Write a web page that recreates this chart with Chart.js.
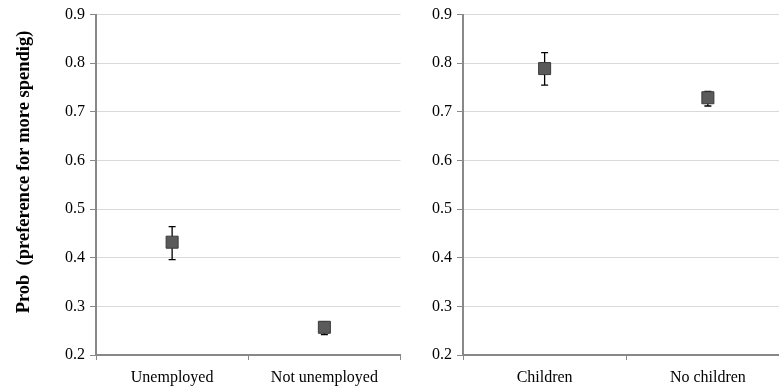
<!DOCTYPE html>
<html>
<head>
<meta charset="utf-8">
<script src="https://cdn.jsdelivr.net/npm/chart.js@4"></script>
<style>
html,body{margin:0;padding:0;background:#fff;overflow:hidden;width:779px;height:392px;}
#w1{position:absolute;left:0;top:0;width:410px;height:392px;}
#w2{position:absolute;left:405px;top:0;width:394px;height:392px;}
</style>
</head>
<body>
<div id="w1"><canvas id="c1"></canvas></div>
<div id="w2"><canvas id="c2"></canvas></div>
<script>
const leftCategories = ["Unemployed", "Not unemployed"];
const leftValues = [0.432, 0.257];
const leftLower = [0.396, 0.242];
const leftUpper = [0.464, 0.268];

const rightCategories = ["Children", "No children"];
const rightValues = [0.789, 0.729];
const rightLower = [0.755, 0.712];
const rightUpper = [0.822, 0.742];

const yTicks = [0.2, 0.3, 0.4, 0.5, 0.6, 0.7, 0.8, 0.9];
const yTitle = "Prob  (preference for more spendig)";

const errorBars = {
  id: 'errorBars',
  beforeDatasetsDraw(chart, args, opts) {
    const ctx = chart.ctx;
    const xs = chart.scales.x, ys = chart.scales.y;
    ctx.save();
    ctx.strokeStyle = '#000';
    ctx.lineWidth = 1.3;
    opts.lower.forEach((lo, i) => {
      const x = xs.getPixelForValue(i);
      const yl = ys.getPixelForValue(lo);
      const yu = ys.getPixelForValue(opts.upper[i]);
      ctx.beginPath();
      ctx.moveTo(x, yl); ctx.lineTo(x, yu);
      ctx.moveTo(x - 3.5, yl); ctx.lineTo(x + 3.5, yl);
      ctx.moveTo(x - 3.5, yu); ctx.lineTo(x + 3.5, yu);
      ctx.stroke();
    });
    ctx.restore();
  }
};

const yTitlePlugin = {
  id: 'yTitlePlugin',
  afterDraw(chart, args, opts) {
    if (!opts.text) return;
    const ctx = chart.ctx;
    ctx.save();
    ctx.translate(24, 172);
    ctx.rotate(-Math.PI / 2);
    ctx.font = 'bold 18.5px "Liberation Serif"';
    ctx.fillStyle = '#000';
    ctx.textAlign = 'center';
    ctx.textBaseline = 'middle';
    ctx.fillText(opts.text, 0, 0);
    ctx.restore();
  }
};

function makeChart(id, cats, vals, lo, hi, yWidth, titleText) {
  return new Chart(document.getElementById(id), {
    type: 'line',
    data: {
      labels: cats,
      datasets: [{
        data: vals,
        showLine: false,
        pointStyle: 'rect',
        pointRadius: 8.5,
        pointHoverRadius: 8.5,
        pointBackgroundColor: '#5a5a5a',
        pointBorderColor: '#3a3a3a',
        pointBorderWidth: 1
      }]
    },
    options: {
      responsive: true,
      maintainAspectRatio: false,
      animation: false,
      events: [],
      layout: { padding: { top: 13, right: 0, left: 0, bottom: 0 } },
      plugins: {
        legend: { display: false },
        tooltip: { enabled: false },
        errorBars: { lower: lo, upper: hi },
        yTitlePlugin: { text: titleText }
      },
      scales: {
        x: {
          type: 'category',
          offset: true,
          grid: {
            display: true,
            drawOnChartArea: false,
            offset: true,
            tickLength: 5,
            color: '#888888',
            lineWidth: 1
          },
          border: { display: true, color: '#888888', width: 2 },
          ticks: {
            color: '#000',
            padding: 8,
            font: { family: 'Liberation Serif', size: 16 }
          },
          afterFit(s) { s.height = 37; }
        },
        y: {
          min: 0.2,
          max: 0.9,
          afterBuildTicks(s) { s.ticks = yTicks.map(v => ({ value: v })); },
          grid: {
            color: '#d9d9d9',
            lineWidth: 1,
            tickLength: 6,
            tickColor: '#888888'
          },
          border: { display: true, color: '#888888', width: 2 },
          ticks: {
            color: '#000',
            padding: 5,
            font: { family: 'Liberation Serif', size: 16 },
            callback: v => Number(v).toFixed(1)
          },
          afterFit(s) { s.width = yWidth; }
        }
      }
    },
    plugins: [errorBars, yTitlePlugin]
  });
}

makeChart('c1', leftCategories, leftValues, leftLower, leftUpper, 96, yTitle);
makeChart('c2', rightCategories, rightValues, rightLower, rightUpper, 58, '');
</script>
</body>
</html>
